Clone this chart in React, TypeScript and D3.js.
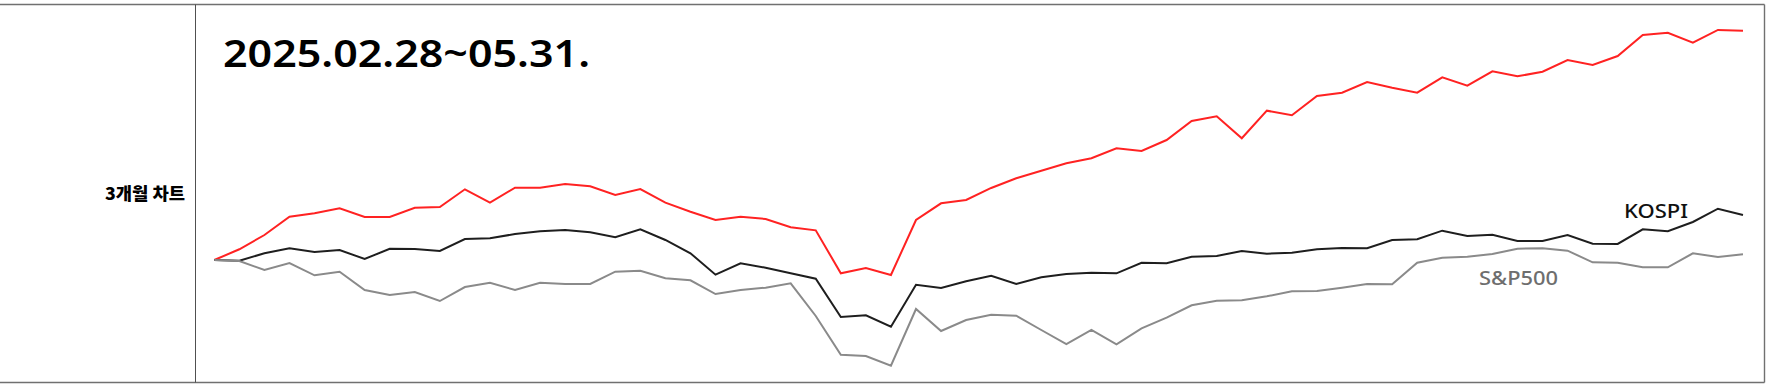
import React from "react";
import * as d3 from "d3";

const W = 1769;
const H = 386;

const title = "2025.02.28~05.31.";
const rowLabel = "3개월 차트";

// cumulative change (%) since 2025-02-28, one value per trading day
const stockValues = [
  0, 1.53, 3.57, 6.19, 6.67, 7.39, 6.14, 6.14, 7.47, 7.57, 10.1, 8.19, 10.33, 10.33, 10.86, 10.53,
  9.29, 10.14, 8.19, 6.9, 5.71, 6.19, 5.86, 4.67, 4.24, -1.9, -1.14, -2.14, 5.71, 8.1, 8.57,
  10.29, 11.67, 12.76, 13.81, 14.53, 15.96, 15.57, 17.14, 19.86, 20.53, 17.39, 21.33, 20.67, 23.43, 23.9,
  25.43, 24.6, 23.9, 26.1, 24.9, 26.96, 26.24, 26.9, 28.57, 27.86, 29.14, 32.14, 32.47, 31.04, 32.86, 32.76,
];

const kospiValues = [
  0, -0.1, 0.96, 1.67, 1.14, 1.43, 0.14, 1.61, 1.57, 1.29, 3.0, 3.1, 3.71, 4.1, 4.29, 3.96,
  3.24, 4.39, 2.86, 0.96, -2.1, -0.47, -1.1, -1.9, -2.67, -8.14, -7.9, -9.53, -3.53, -4.0, -3.04,
  -2.26, -3.43, -2.47, -2.0, -1.81, -1.9, -0.39, -0.47, 0.47, 0.57, 1.29, 0.9, 1.04, 1.53, 1.71,
  1.67, 2.86, 2.96, 4.19, 3.43, 3.61, 2.71, 2.71, 3.57, 2.33, 2.29, 4.39, 4.1, 5.43, 7.33, 6.43,
];

const spxValues = [
  0, -0.14, -1.43, -0.43, -2.19, -1.67, -4.29, -5.0, -4.57, -5.86, -3.86, -3.24, -4.29, -3.24, -3.43, -3.43,
  -1.67, -1.53, -2.61, -2.9, -4.86, -4.29, -3.96, -3.33, -8.0, -13.53, -13.71, -15.1, -7.0, -10.14, -8.57,
  -7.81, -7.96, -10.0, -12.0, -10.0, -12.04, -9.76, -8.24, -6.47, -5.81, -5.76, -5.19, -4.47, -4.43, -3.96,
  -3.43, -3.47, -0.39, 0.33, 0.47, 0.86, 1.61, 1.67, 1.33, -0.33, -0.39, -1.04, -1.04, 0.96, 0.43, 0.81,
];

const seriesNames = ["종목", "KOSPI", "S&P500"];
const seriesColors = ["#ff2222", "#1e1e1e", "#8a8a8a"];

export default function App() {
  const x = d3.scaleLinear().domain([0, stockValues.length - 1]).range([214.3, 1743]);
  const y = d3.scaleLinear().domain([-16, 33]).range([372, 29]);
  const line = d3
    .line<number>()
    .x((_, i) => x(i))
    .y((d) => y(d));

  const all = [stockValues, kospiValues, spxValues];

  return (
    <svg
      width={W}
      height={H}
      style={{ position: "fixed", left: 0, top: 0, background: "#fff" }}
    >
      <rect x={0} y={0} width={W} height={H} fill="#fff" />
      {/* frame */}
      <line x1={0} x2={1764.5} y1={4.5} y2={4.5} stroke="#707070" strokeWidth={1.4} />
      <line x1={0} x2={1764.5} y1={382.5} y2={382.5} stroke="#707070" strokeWidth={1.4} />
      <line x1={1764.5} x2={1764.5} y1={4.5} y2={382.5} stroke="#707070" strokeWidth={1.4} />
      <line x1={195.5} x2={195.5} y1={4.5} y2={382.5} stroke="#505050" strokeWidth={1} />

      <text
        x={185}
        y={200}
        textAnchor="end"
        fontFamily="'Noto Sans CJK KR', sans-serif"
        fontWeight={900}
        fontSize={17.5}
        fill="#000"
        textLength={80}
        lengthAdjust="spacingAndGlyphs"
      >
        {rowLabel}
      </text>

      <text
        x={223}
        y={67}
        fontFamily="'Noto Sans', sans-serif"
        fontWeight={600}
        fontSize={38}
        fill="#000"
        textLength={367}
        lengthAdjust="spacingAndGlyphs"
      >
        {title}
      </text>

      {all.map((vals, k) => (
        <path
          key={seriesNames[k]}
          d={line(vals) || ""}
          fill="none"
          stroke={seriesColors[k]}
          strokeWidth={2}
          strokeLinejoin="miter"
        />
      ))}

      <text
        x={1624}
        y={218}
        fontFamily="'Noto Sans', sans-serif"
        fontWeight={500}
        fontSize={20}
        fill="#111"
        textLength={64}
        lengthAdjust="spacingAndGlyphs"
      >
        {seriesNames[1]}
      </text>
      <text
        x={1479}
        y={285}
        fontFamily="'Noto Sans', sans-serif"
        fontWeight={500}
        fontSize={20}
        fill="#6e6e6e"
        textLength={79}
        lengthAdjust="spacingAndGlyphs"
      >
        {seriesNames[2]}
      </text>
    </svg>
  );
}
